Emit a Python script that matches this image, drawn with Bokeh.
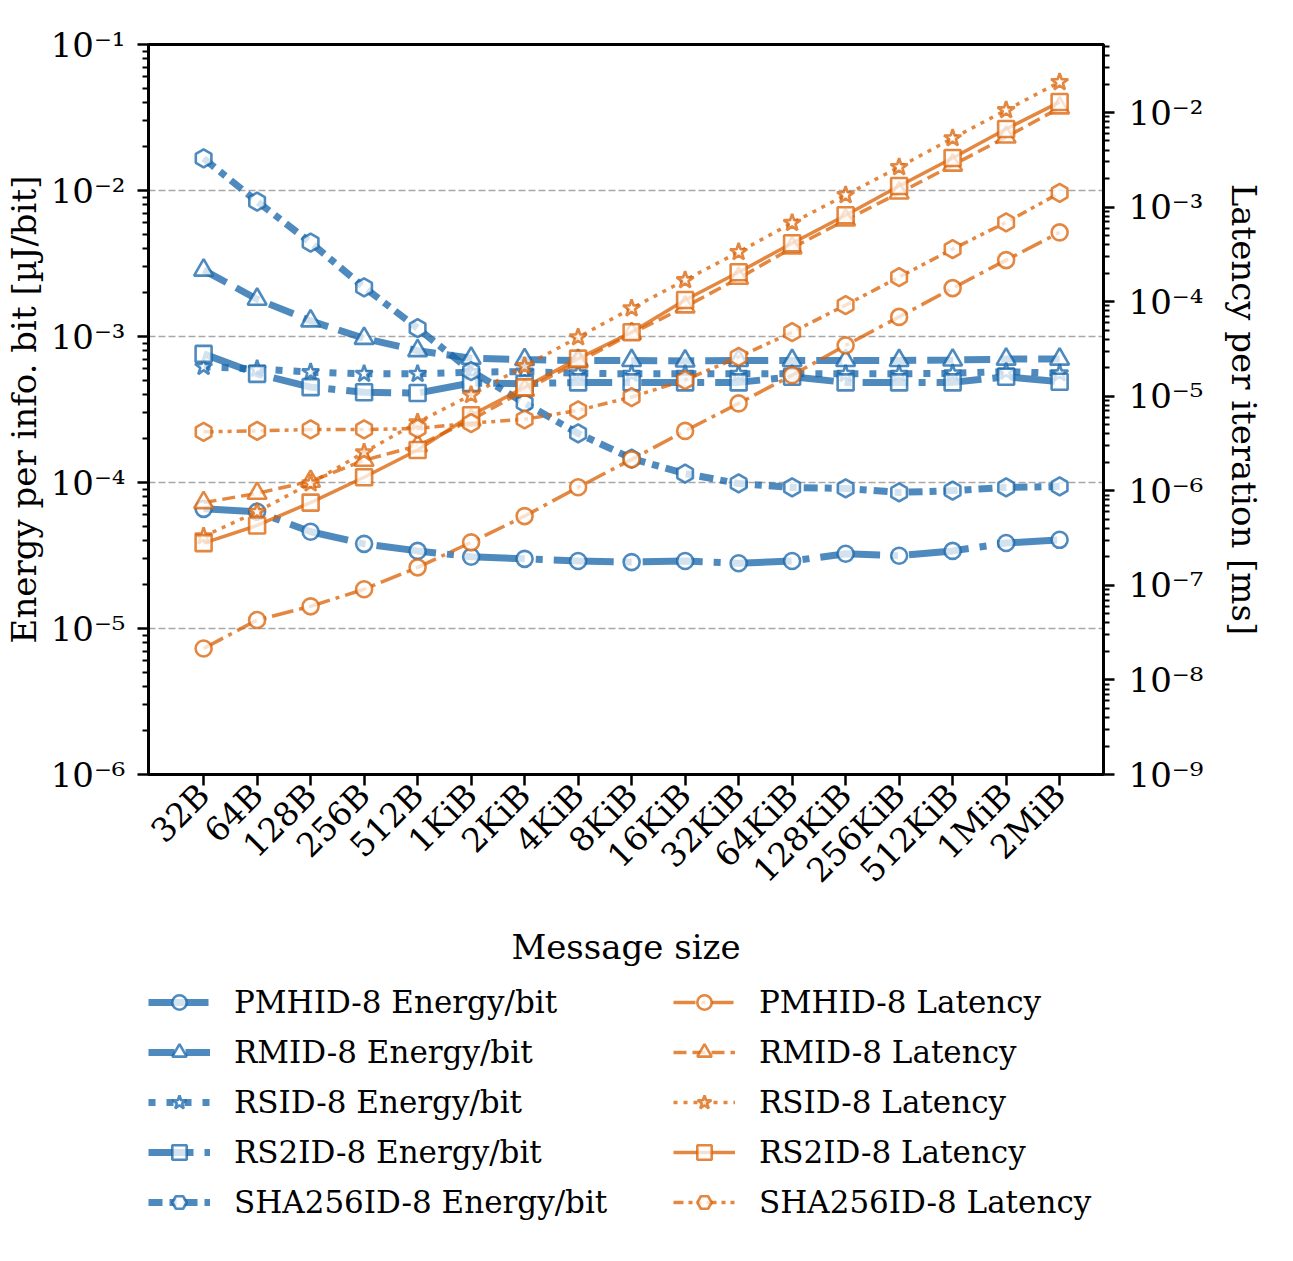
import math

from bokeh.embed import file_html
from bokeh.layouts import column
from bokeh.models import (CustomJSTickFormatter, FixedTicker, Legend, LegendItem,
                          LinearAxis, LogAxis, LogScale, Range1d)
from bokeh.plotting import figure
from bokeh.resources import INLINE

# ---------------------------------------------------------------- data
sizes = ["32B", "64B", "128B", "256B", "512B", "1KiB", "2KiB", "4KiB", "8KiB",
         "16KiB", "32KiB", "64KiB", "128KiB", "256KiB", "512KiB", "1MiB", "2MiB"]

# energy per information bit [uJ/bit]
energy_pmhid = [6.6e-5, 6.3e-5, 4.6e-5, 3.8e-5, 3.4e-5, 3.1e-5, 3.0e-5, 2.9e-5, 2.85e-5,
                2.9e-5, 2.8e-5, 2.9e-5, 3.25e-5, 3.15e-5, 3.4e-5, 3.85e-5, 4.05e-5]
energy_rmid = [2.85e-3, 1.8e-3, 1.28e-3, 9.7e-4, 8.0e-4, 7.1e-4, 6.95e-4, 6.85e-4, 6.85e-4,
               6.8e-4, 6.85e-4, 6.85e-4, 6.85e-4, 6.85e-4, 6.9e-4, 7.0e-4, 7.0e-4]
energy_rsid = [6.2e-4, 6.0e-4, 5.7e-4, 5.55e-4, 5.55e-4, 5.7e-4, 5.75e-4, 5.6e-4, 5.55e-4,
               5.55e-4, 5.55e-4, 5.55e-4, 5.55e-4, 5.55e-4, 5.6e-4, 5.75e-4, 5.6e-4]
energy_rs2id = [7.6e-4, 5.55e-4, 4.5e-4, 4.15e-4, 4.1e-4, 4.8e-4, 4.75e-4, 4.85e-4, 4.85e-4,
                4.85e-4, 4.85e-4, 5.3e-4, 4.85e-4, 4.85e-4, 4.85e-4, 5.3e-4, 4.9e-4]
energy_sha = [1.66e-2, 8.4e-3, 4.4e-3, 2.17e-3, 1.14e-3, 5.8e-4, 3.5e-4, 2.17e-4, 1.46e-4,
              1.15e-4, 9.85e-5, 9.25e-5, 9.1e-5, 8.55e-5, 8.8e-5, 9.25e-5, 9.4e-5]

# latency per iteration [ms]
lat_pmhid = [2.15e-8, 4.3e-8, 6.0e-8, 9.1e-8, 1.55e-7, 2.85e-7, 5.4e-7, 1.09e-6, 2.15e-6,
             4.3e-6, 8.4e-6, 1.67e-5, 3.45e-5, 6.9e-5, 1.39e-4, 2.75e-4, 5.4e-4]
lat_rmid = [7.5e-7, 9.4e-7, 1.26e-6, 2.1e-6, 3.0e-6, 5.6e-6, 1.16e-5, 2.3e-5, 4.6e-5,
            8.8e-5, 1.77e-4, 3.7e-4, 7.3e-4, 1.41e-3, 2.78e-3, 5.5e-3, 1.12e-2]
lat_rsid = [3.3e-7, 6.0e-7, 1.2e-6, 2.55e-6, 5.3e-6, 1.03e-5, 2.08e-5, 4.2e-5, 8.5e-5,
            1.69e-4, 3.35e-4, 6.8e-4, 1.34e-3, 2.65e-3, 5.35e-3, 1.06e-2, 2.1e-2]
lat_rs2id = [2.8e-7, 4.3e-7, 7.5e-7, 1.39e-6, 2.7e-6, 6.3e-6, 1.24e-5, 2.5e-5, 4.75e-5,
             1.04e-4, 2.05e-4, 4.15e-4, 8.2e-4, 1.67e-3, 3.3e-3, 6.7e-3, 1.29e-2]
lat_sha = [4.2e-6, 4.3e-6, 4.45e-6, 4.45e-6, 4.55e-6, 5.2e-6, 5.7e-6, 7.1e-6, 9.8e-6,
           1.48e-5, 2.6e-5, 4.75e-5, 9.2e-5, 1.82e-4, 3.6e-4, 6.9e-4, 1.41e-3]

schemes = ["PMHID-8", "RMID-8", "RSID-8", "RS2ID-8", "SHA256ID-8"]
energy = [energy_pmhid, energy_rmid, energy_rsid, energy_rs2id, energy_sha]
latency = [lat_pmhid, lat_rmid, lat_rsid, lat_rs2id, lat_sha]

# ---------------------------------------------------------------- styles
FONT = "DejaVu Serif"
BLUE = "#1463a8"
ORANGE = "#d95f02"
ALPHA = 0.75

markers = [("circle", 16, 0.0), ("triangle", 19, 0.0), ("star", 18, 0.0),
           ("square", 16, 0.0), ("hex", 18, math.pi / 2)]
energy_dash = ["60 11 7 11", "26 11", "7 11", "45 11 7 11", "14 7 7 7"]
latency_dash = ["22 6 4 6", "13 6", "4 6", "solid", "10 5 4 5 4 5"]

xs = list(range(len(sizes)))

# ---------------------------------------------------------------- main chart
p = figure(
    width=1293, height=968,
    frame_width=955, frame_height=730,
    min_border_left=147, min_border_right=191, min_border_top=44, min_border_bottom=194,
    x_range=Range1d(-1.03, 16.82),
    y_range=Range1d(1e-6, 1e-1), y_axis_type="log",
    output_backend="svg", toolbar_location=None,
    x_axis_location=None, y_axis_location=None,
)
p.background_fill_color = "white"
p.border_fill_color = "white"
p.outline_line_color = "black"
p.outline_line_width = 3
p.xgrid.visible = False

p.extra_y_ranges = {"lat": Range1d(1e-9, 0.0524)}
p.extra_y_scales = {"lat": LogScale()}

sup = """const sup = {"-": "\\u207b", "0": "\\u2070", "1": "\\u00b9", "2": "\\u00b2",
  "3": "\\u00b3", "4": "\\u2074", "5": "\\u2075", "6": "\\u2076", "7": "\\u2077",
  "8": "\\u2078", "9": "\\u2079"};
const e = Math.round(Math.log10(tick));
return "10" + String(e).split("").map(c => sup[c]).join("");"""


def decade_ticker(lo, hi, top):
    majors = [10.0 ** k for k in range(lo, hi + 1)]
    minors = [m * 10.0 ** k for k in range(lo, hi + 1) for m in range(2, 10)
              if m * 10.0 ** k < top]
    return FixedTicker(ticks=majors, minor_ticks=minors)


def style_axis(ax, label_size="34px"):
    ax.axis_line_width = 3
    ax.major_tick_line_width = 2.5
    ax.minor_tick_line_width = 2
    ax.major_tick_out = 11
    ax.major_tick_in = 0
    ax.minor_tick_out = 6
    ax.minor_tick_in = 0
    ax.major_label_text_font = FONT
    ax.major_label_text_font_size = label_size
    ax.major_label_text_color = "black"
    ax.axis_label_text_font = FONT
    ax.axis_label_text_font_size = "34px"
    ax.axis_label_text_font_style = "normal"
    ax.axis_label_text_color = "black"


left = LogAxis(ticker=decade_ticker(-6, -1, 0.1),
               formatter=CustomJSTickFormatter(code=sup),
               axis_label="Energy per info. bit [µJ/bit]")
style_axis(left)
left.major_label_standoff = 12
left.axis_label_standoff = 4
p.add_layout(left, "left")

right = LogAxis(y_range_name="lat", ticker=decade_ticker(-9, -2, 0.0524),
                formatter=CustomJSTickFormatter(code=sup),
                axis_label="Latency per iteration [ms]")
style_axis(right)
right.major_label_standoff = 14
right.axis_label_standoff = 18
p.add_layout(right, "right")

bottom = LinearAxis(ticker=FixedTicker(ticks=xs, minor_ticks=[]),
                    major_label_overrides={i: s for i, s in enumerate(sizes)},
                    axis_label="Message size")
style_axis(bottom, "33px")
bottom.major_label_orientation = math.pi / 4
bottom.major_label_standoff = 4
bottom.axis_label_standoff = 20
p.add_layout(bottom, "below")

p.ygrid.ticker = FixedTicker(ticks=[1e-5, 1e-4, 1e-3, 1e-2])
p.ygrid.grid_line_color = "#a8a8a8"
p.ygrid.grid_line_width = 1.6
p.ygrid.grid_line_dash = "7 3"


def series(fig, x, vals, color, dash, lw, marker, y_range_name="default"):
    mk, size, angle = marker
    ln = fig.line(x, vals, line_color=color, line_width=lw, line_alpha=ALPHA,
                  line_dash=dash, y_range_name=y_range_name)
    sc = fig.scatter(x, vals, marker=mk, size=size, angle=angle,
                     line_color=color, line_width=2.6, line_alpha=ALPHA,
                     fill_color="white", fill_alpha=ALPHA, y_range_name=y_range_name)
    return [ln, sc]


for vals, dash, mk in zip(energy, energy_dash, markers):
    series(p, xs, vals, BLUE, dash, 7, mk)
for vals, dash, mk in zip(latency, latency_dash, markers):
    series(p, xs, vals, ORANGE, dash, 3.5, mk, "lat")

# ---------------------------------------------------------------- legend strip
lg = figure(width=1293, height=293, x_range=Range1d(0, 1), y_range=Range1d(0, 1),
            min_border_left=0, min_border_right=0, min_border_top=0, min_border_bottom=0,
            output_backend="svg", toolbar_location=None,
            x_axis_location=None, y_axis_location=None)
lg.outline_line_color = None
lg.grid.visible = False
lg.background_fill_color = "white"
lg.border_fill_color = "white"

# style carriers for the legend keys (a single undefined point, never drawn)
NAN = [float("nan")]
energy_items = [LegendItem(label=f"{name} Energy/bit",
                           renderers=series(lg, NAN, NAN, BLUE, dash, 7, mk))
                for name, dash, mk in zip(schemes, energy_dash, markers)]
latency_items = [LegendItem(label=f"{name} Latency",
                            renderers=series(lg, NAN, NAN, ORANGE, dash, 3.5, mk))
                 for name, dash, mk in zip(schemes, latency_dash, markers)]


def make_legend(items, loc):
    return Legend(items=items, location=loc, orientation="vertical",
                  glyph_width=62, glyph_height=36, label_height=36, spacing=14,
                  label_standoff=24, padding=0, margin=0,
                  label_text_font=FONT, label_text_font_size="31px",
                  label_text_color="black",
                  background_fill_alpha=0, border_line_alpha=0)


lg.add_layout(make_legend(energy_items, (0, 42)), "center")
lg.add_layout(make_legend(latency_items, (525, 42)), "center")

page = column(p, lg, spacing=0)
open("out.html", "w").write(file_html(page, INLINE))
